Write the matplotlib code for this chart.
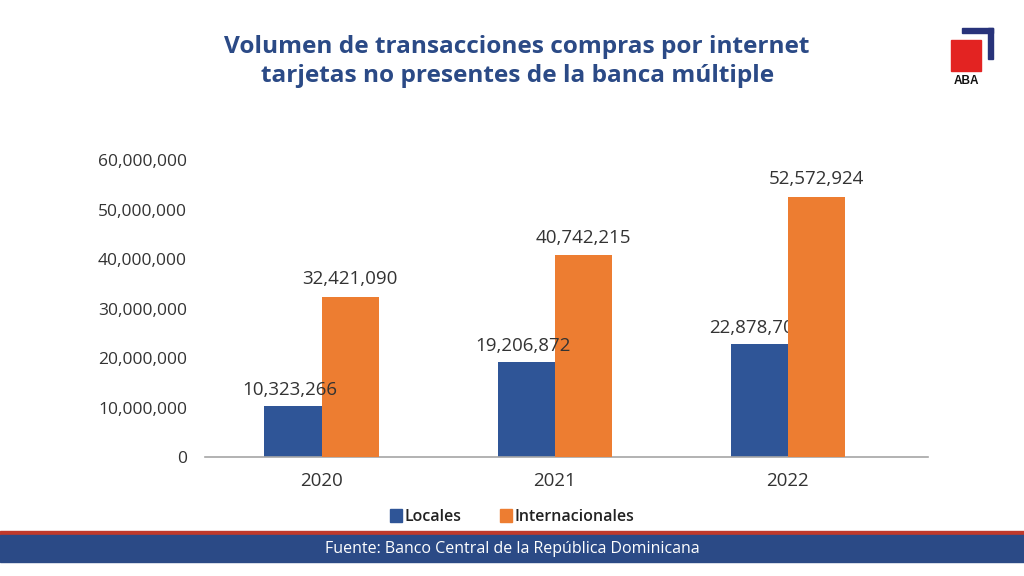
import numpy as np
import matplotlib.pyplot as plt
from matplotlib.patches import Rectangle
from matplotlib.ticker import FuncFormatter

plt.rcParams['font.family'] = ['Open Sans', 'DejaVu Sans']

# datos
years = ['2020', '2021', '2022']
locales = [10323266, 19206872, 22878700]
internacionales = [32421090, 40742215, 52572924]
locales_txt = ['10,323,266', '19,206,872', '22,878,700']  # ultimo valor tapado en el original
internacionales_txt = ['32,421,090', '40,742,215', '52,572,924']

c_loc = '#2F5597'
c_int = '#ED7D31'
navy = '#2B4A86'
txt = '#333333'

fig = plt.figure(figsize=(10.24, 5.76), dpi=100)
ax = fig.add_axes([0.2002, 0.2066, 0.7058, 0.5156])

x = np.arange(len(years))
w = 0.245
ax.bar(x - w / 2, locales, w, color=c_loc, zorder=2)
ax.bar(x + w / 2, internacionales, w, color=c_int, zorder=3)

# etiquetas de valores (la de 2022 queda detras de la barra naranja)
z_loc = [4, 4, 2.5]
for i in range(len(years)):
    ax.annotate(locales_txt[i], (x[i] - w / 2, locales[i]), xytext=(-2, 5),
                textcoords='offset points', ha='center', va='bottom',
                fontsize=13.5, color=txt, zorder=z_loc[i])
    ax.annotate(internacionales_txt[i], (x[i] + w / 2, internacionales[i]),
                xytext=(0, 6), textcoords='offset points', ha='center',
                va='bottom', fontsize=13.5, color=txt, zorder=4)

ax.set_xlim(-0.5, 2.6)
ax.set_ylim(0, 60000000)
ax.set_yticks(np.arange(0, 60000001, 10000000))
ax.yaxis.set_major_formatter(FuncFormatter(lambda v, p: f"{int(v):,}"))
ax.set_xticks(x)
ax.set_xticklabels(years)
ax.tick_params(axis='both', length=0, colors=txt)
ax.tick_params(axis='y', labelsize=12.5, pad=13)
ax.tick_params(axis='x', labelsize=13.5, pad=11)
for s in ['top', 'right', 'left']:
    ax.spines[s].set_visible(False)
ax.spines['bottom'].set_color('#A6A6A6')
ax.spines['bottom'].set_linewidth(1.2)

# titulo
fig.text(0.505, 0.893, 'Volumen de transacciones compras por internet\ntarjetas no presentes de la banca múltiple',
         ha='center', va='center', fontsize=17.6, fontweight='bold', color=navy,
         linespacing=1.3)

# leyenda
h1 = Rectangle((0, 0), 1, 1, color=c_loc)
h2 = Rectangle((0, 0), 1, 1, color=c_int)
fig.legend([h1, h2], ['Locales', 'Internacionales'], loc='center',
           bbox_to_anchor=(0.5, 0.102), ncol=2, frameon=False,
           handlelength=0.75, handleheight=0.9, handletextpad=0.15,
           columnspacing=2.4, prop={'size': 11.5, 'weight': 'semibold'},
           labelcolor='#222222')

# banda inferior con la fuente
fig.patches.append(Rectangle((0, 1 - 535 / 576), 1, 4 / 576, color='#C0392B',
                             transform=fig.transFigure, figure=fig))
fig.patches.append(Rectangle((0, 1 - 562 / 576), 1, 27 / 576, color=navy,
                             transform=fig.transFigure, figure=fig))
fig.text(0.5, 1 - 549 / 576, 'Fuente: Banco Central de la República Dominicana',
         ha='center', va='center', fontsize=11.5, color='white')

# logo ABA
fig.patches.append(Rectangle((951 / 1024, 1 - 71 / 576), 30 / 1024, 31 / 576,
                             color='#E32322', transform=fig.transFigure, figure=fig))
fig.patches.append(Rectangle((962 / 1024, 1 - 33 / 576), 31 / 1024, 5 / 576,
                             color='#28337A', transform=fig.transFigure, figure=fig))
fig.patches.append(Rectangle((988 / 1024, 1 - 59 / 576), 5 / 1024, 31 / 576,
                             color='#28337A', transform=fig.transFigure, figure=fig))
fig.text(966 / 1024, 1 - 81 / 576, 'ABA', ha='center', va='center',
         fontsize=8.5, fontweight='bold', color='#111111',
         family=['Liberation Sans', 'DejaVu Sans'])

fig.savefig('out.png', dpi=100)
